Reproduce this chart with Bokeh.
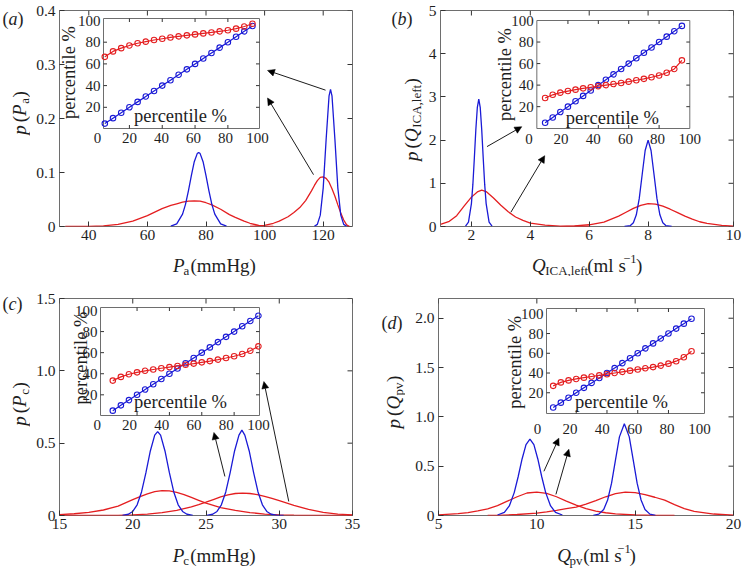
from math import pi
from bokeh.plotting import figure
from bokeh.models import Range1d, LinearAxis, FixedTicker, Arrow, NormalHead
from bokeh.layouts import row, column
from bokeh.core.properties import value
from bokeh.embed import file_html
from bokeh.resources import INLINE

FONT = "Liberation Serif"
FONT_V = value(FONT)
RED = "#e41e20"
BLUE = "#1a1ad6"
INK = "#1e1e1e"
FRAME = "#6e6e6e"
TICK = "#333333"

# ------------------------------------------------------------------ data
# (a) P_a
a_blue1_x = [68, 70, 72, 73, 74, 75, 76, 77, 77.5, 78, 79, 80, 81, 82, 83, 85, 87]
a_blue1_y = [0.0006, 0.005, 0.023, 0.041, 0.066, 0.094, 0.12, 0.135, 0.137, 0.135, 0.12, 0.094, 0.066, 0.041, 0.023, 0.005, 0.0006]
a_blue2_x = [117, 118, 119, 120, 121, 122, 122.5, 123, 124, 125, 126, 127, 128]
a_blue2_y = [0.0005, 0.004, 0.021, 0.071, 0.161, 0.242, 0.254, 0.242, 0.161, 0.071, 0.021, 0.004, 0.0005]
a_red1_x = [32, 40, 45, 50, 55, 60, 65, 68, 70, 72, 74, 76, 78, 80, 82, 85, 88, 90, 93, 95, 98, 100, 103]
a_red1_y = [0, 0.0003, 0.001, 0.004, 0.010, 0.020, 0.033, 0.039, 0.042, 0.045, 0.047, 0.0475, 0.047, 0.044, 0.040, 0.032, 0.022, 0.017, 0.010, 0.006, 0.002, 0.0008, 0]
a_red2_x = [95, 100, 103, 105, 108, 110, 112, 114, 116, 117, 118, 119, 120, 121, 122, 123, 124, 125, 126, 127, 128, 129]
a_red2_y = [0, 0.002, 0.006, 0.010, 0.018, 0.026, 0.035, 0.048, 0.066, 0.076, 0.085, 0.091, 0.092, 0.089, 0.082, 0.070, 0.056, 0.040, 0.025, 0.012, 0.003, 0]

# (b) Q_ICA,left
b_blue1_x = [1.8, 1.9, 2.0, 2.05, 2.1, 2.15, 2.2, 2.25, 2.3, 2.35, 2.4, 2.45, 2.5, 2.6, 2.7]
b_blue1_y = [0.011, 0.10, 0.53, 0.98, 1.59, 2.24, 2.75, 2.95, 2.75, 2.24, 1.59, 0.98, 0.53, 0.10, 0.011]
b_blue2_x = [7.2, 7.4, 7.5, 7.6, 7.7, 7.8, 7.9, 8.0, 8.1, 8.2, 8.3, 8.4, 8.5, 8.6, 8.8]
b_blue2_y = [0.001, 0.022, 0.088, 0.27, 0.65, 1.21, 1.76, 2.0, 1.76, 1.21, 0.65, 0.27, 0.088, 0.022, 0.001]
b_red1_x = [0.95, 1.25, 1.5, 1.75, 2.0, 2.2, 2.35, 2.5, 2.75, 3.0, 3.25, 3.5, 3.75, 4.0, 4.5, 5.0, 5.5, 6.0]
b_red1_y = [0.05, 0.12, 0.25, 0.47, 0.68, 0.80, 0.84, 0.81, 0.66, 0.49, 0.34, 0.22, 0.14, 0.08, 0.03, 0.01, 0.003, 0]
b_red2_x = [5.0, 5.5, 6.0, 6.5, 7.0, 7.25, 7.5, 7.75, 8.0, 8.25, 8.5, 8.75, 9.0, 9.25, 9.5, 9.75, 10.0, 10.5, 10.9]
b_red2_y = [0.005, 0.015, 0.04, 0.10, 0.24, 0.33, 0.42, 0.49, 0.53, 0.52, 0.47, 0.40, 0.32, 0.24, 0.17, 0.11, 0.07, 0.025, 0.01]

# (c) P_c
c_blue1_x = [19.3, 19.7, 20.0, 20.3, 20.6, 20.9, 21.2, 21.5, 21.7, 21.9, 22.2, 22.5, 22.8, 23.1, 23.4, 23.7, 24.1]
c_blue1_y = [0.0014, 0.0087, 0.028, 0.074, 0.163, 0.296, 0.446, 0.556, 0.58, 0.556, 0.446, 0.296, 0.163, 0.074, 0.028, 0.0087, 0.0014]
c_blue2_x = [25.05, 25.45, 25.75, 26.05, 26.35, 26.65, 26.95, 27.25, 27.45, 27.65, 27.95, 28.25, 28.55, 28.85, 29.15, 29.45, 29.85, 30.3]
c_blue2_y = [0.0014, 0.0087, 0.028, 0.074, 0.163, 0.296, 0.446, 0.556, 0.59, 0.556, 0.446, 0.296, 0.163, 0.074, 0.028, 0.0087, 0.0014, 0]
c_red1_x = [15, 16, 17, 18, 19, 20, 20.5, 21, 21.5, 22, 22.5, 23, 23.5, 24, 24.5, 25, 26, 27, 28, 29, 30, 31, 32, 35]
c_red1_y = [0.006, 0.012, 0.022, 0.038, 0.065, 0.11, 0.13, 0.15, 0.165, 0.172, 0.17, 0.16, 0.145, 0.125, 0.105, 0.085, 0.055, 0.035, 0.02, 0.01, 0.005, 0.002, 0, 0]
c_red2_x = [15, 19, 20, 21, 22, 23, 24, 24.5, 25, 25.5, 26, 26.5, 27, 27.5, 28, 28.5, 29, 29.5, 30, 31, 32, 33, 34, 35]
c_red2_y = [0, 0.001, 0.004, 0.01, 0.02, 0.035, 0.06, 0.075, 0.092, 0.11, 0.128, 0.142, 0.152, 0.155, 0.152, 0.145, 0.133, 0.118, 0.102, 0.07, 0.042, 0.022, 0.009, 0.004]

# (d) Q_pv
d_blue1_x = [8.0, 8.35, 8.6, 8.85, 9.05, 9.25, 9.45, 9.65, 9.85, 10.05, 10.25, 10.45, 10.7, 10.95, 11.3]
d_blue1_y = [0.005, 0.032, 0.097, 0.232, 0.393, 0.573, 0.719, 0.775, 0.719, 0.573, 0.393, 0.232, 0.097, 0.032, 0.005]
d_blue2_x = [12.87, 13.15, 13.4, 13.6, 13.8, 14.0, 14.2, 14.45, 14.7, 14.9, 15.1, 15.3, 15.5, 15.75, 16.03]
d_blue2_y = [0.002, 0.014, 0.061, 0.157, 0.328, 0.564, 0.797, 0.93, 0.797, 0.564, 0.328, 0.157, 0.061, 0.014, 0.002]
d_red1_x = [5, 6, 6.5, 7, 7.5, 8, 8.5, 9, 9.5, 10, 10.5, 11, 11.5, 12, 12.5, 13, 13.5, 14, 15, 16, 17]
d_red1_y = [0.006, 0.018, 0.03, 0.046, 0.068, 0.1, 0.145, 0.19, 0.228, 0.238, 0.225, 0.19, 0.145, 0.105, 0.07, 0.045, 0.028, 0.016, 0.005, 0.001, 0]
d_red2_x = [7.5, 8, 9, 10, 10.5, 11, 11.5, 12, 12.5, 13, 13.5, 14, 14.5, 15, 15.5, 16, 16.5, 17, 17.5, 18, 19, 20]
d_red2_y = [0, 0.002, 0.01, 0.025, 0.037, 0.053, 0.07, 0.085, 0.115, 0.15, 0.19, 0.222, 0.236, 0.232, 0.212, 0.185, 0.155, 0.11, 0.07, 0.042, 0.015, 0.004]

# insets: percentile (x) vs percentile (y)
pct_x = [5, 10, 15, 20, 25, 30, 35, 40, 45, 50, 55, 60, 65, 70, 75, 80, 85, 90, 95]
a_pct_blue = [5, 10, 15, 20, 25, 30, 35, 40, 45, 50, 55, 60, 65, 70, 75, 80, 85, 90, 95]
a_pct_red = [66.5, 71.5, 74.5, 77, 79, 80.5, 82, 83.2, 84.4, 85.4, 86.3, 87.2, 88.1, 89, 90, 91, 92.5, 94.5, 97]
b_pct_blue = [5, 10, 15, 20, 25, 30, 35, 40, 45, 50, 55, 60, 65, 70, 75, 80, 85, 90, 95]
b_pct_red = [28, 31, 33, 34.5, 35.8, 37, 38, 39, 40, 41, 42, 43.2, 44.5, 45.8, 47.3, 49, 51.5, 55, 63]
c_pct_blue = [5, 10, 15, 20, 25, 30, 35, 40, 45, 50, 55, 60, 65, 70, 75, 80, 85, 90, 95]
c_pct_red = [33.5, 37, 39.5, 41.3, 42.8, 44, 45.2, 46.3, 47.4, 48.5, 49.6, 50.8, 52, 53.4, 54.9, 56.6, 58.7, 61.8, 66]
d_pct_blue = [5, 10, 15, 20, 25, 30, 35, 40, 45, 50, 55, 60, 65, 70, 75, 80, 85, 90, 95]
d_pct_red = [27, 30.5, 32.5, 34, 35.3, 36.5, 37.6, 38.8, 40, 41.2, 42.4, 43.6, 44.8, 46, 47.5, 49.5, 52, 56, 62]

inset_ticks = [0, 20, 40, 60, 80, 100]

# ------------------------------------------------------------------ layout helpers
W_REG = {" ": .25, "(": .333, ")": .333, "m": .778, "H": .722, "g": .5, "l": .278, "s": .389,
         "a": .444, "c": .444, "p": .5, "v": .5, "I": .333, "C": .667, "A": .722, ",": .25,
         "e": .444, "f": .333, "t": .278, "1": .5, "\u2212": .564}
W_IT = {"P": .611, "Q": .722, "p": .5, "a": .5, "b": .5, "c": .444, "d": .5}


def tw(s, size, italic):
    table = W_IT if italic else W_REG
    return sum(table.get(ch, .5) for ch in s) * size


def put_seq(fig, pieces, x, y, rotated=False, center=True):
    total = sum(tw(t, s, it) + g for (t, s, it, sh, g) in pieces)
    cur = (y if rotated else x) - (total / 2 if center else 0)
    for (t, s, it, sh, g) in pieces:
        cur += g
        if rotated:
            lx, ly, ang = x - sh, cur, pi / 2
        else:
            lx, ly, ang = cur, y + sh, 0
        fig.text(x=[lx], y=[ly], text=[t], angle=ang, text_font=FONT_V,
                 text_font_size=value(f"{s}px"),
                 text_font_style=value("italic" if it else "normal"),
                 text_color=INK, text_align="left", text_baseline="alphabetic")
        cur += tw(t, s, it)


def text_fig(w, h):
    f = figure(width=w, height=h, x_range=Range1d(0, w), y_range=Range1d(0, h),
               output_backend="svg", toolbar_location=None, min_border=0,
               x_axis_type=None, y_axis_type=None)
    f.grid.visible = False
    f.outline_line_color = None
    f.background_fill_color = "white"
    f.border_fill_color = "white"
    return f


def style_axis(ax, ticks, overrides, standoff):
    ax.ticker = FixedTicker(ticks=ticks)
    ax.major_label_overrides = overrides
    ax.axis_line_color = None
    ax.major_tick_in = 5
    ax.major_tick_out = 0
    ax.major_tick_line_color = TICK
    ax.minor_tick_line_color = None
    ax.major_label_text_font = FONT
    ax.major_label_text_color = INK
    ax.major_label_text_font_size = "15.5px"
    ax.major_label_standoff = standoff


# rows: (top, bottom of the axis band, bottom of the row) ; columns: (left, right)
ROWS = [(0, 247, 276), (276, 536, 569)]
COLS = [(0, 371), (371, 742)]


def make_panel(cfg, ri, ci):
    L, R, T, B = cfg["frame"]
    rtop, mbot, rbot = ROWS[ri]
    c0, c1 = COLS[ci]
    wy = cfg["wy"]
    fw, fh = R - L, B - T
    fx = lambda v: v - L
    fy = lambda v: B - v
    lb, rb, tb, bb = L - c0 - wy, c1 - R, T - rtop, mbot - B
    x0r, x1r = cfg["xr"]
    y0r, y1r = cfg["yr"]
    p = figure(width=lb + fw + rb, height=tb + fh + bb,
               x_range=Range1d(x0r, x1r), y_range=Range1d(y0r, y1r),
               output_backend="svg", toolbar_location=None,
               min_border_left=lb, min_border_right=rb, min_border_top=tb, min_border_bottom=bb,
               x_axis_type=None, y_axis_type=None)
    p.grid.visible = False
    p.outline_line_color = FRAME
    p.outline_line_width = 1
    p.background_fill_color = "white"
    p.border_fill_color = "white"

    xt, yt = cfg["xticks"], cfg["yticks"]
    ax = LinearAxis()
    style_axis(ax, xt, {t: s for t, s in zip(xt, cfg["xlabels"])}, 3)
    p.add_layout(ax, "below")
    ay = LinearAxis()
    style_axis(ay, yt, {t: s for t, s in zip(yt, cfg["ylabels"])}, 4)
    p.add_layout(ay, "left")
    # inward ticks on the top and right edges of the box
    dxt = (x1r - x0r) / fw * 5
    dyt = (y1r - y0r) / fh * 5
    p.segment(x0=xt, x1=xt, y0=[y1r] * len(xt), y1=[y1r - dyt] * len(xt), line_color=TICK, line_width=1)
    p.segment(x0=[x1r] * len(yt), x1=[x1r - dxt] * len(yt), y0=yt, y1=yt, line_color=TICK, line_width=1)

    for (xs, ys, col) in cfg["curves"]:
        p.line(xs, ys, line_color=col, line_width=1.3)

    # ---- inset, drawn on extra ranges of its own
    ins = cfg["inset"]
    ppx = (fx(ins["X100"]) - fx(ins["X0"])) / 100.0
    ix0 = -fx(ins["X0"]) / ppx
    ppy = (fy(ins["Y100"]) - fy(ins["Y0"])) / 100.0
    iy0 = -fy(ins["Y0"]) / ppy
    ppl = (fx(ins["LX100"]) - fx(ins["LX0"])) / 100.0
    il0 = -fx(ins["LX0"]) / ppl
    p.extra_x_ranges = {"ix": Range1d(ix0, ix0 + fw / ppx), "lx": Range1d(il0, il0 + fw / ppl),
                        "px": Range1d(0, fw)}
    p.extra_y_ranges = {"iy": Range1d(iy0, iy0 + fh / ppy), "py": Range1d(0, fh)}

    bL, bR, bT, bB = ins["box"]
    bx0 = (fx(bL) - fx(ins["X0"])) / ppx
    bx1 = (fx(bR) - fx(ins["X0"])) / ppx
    by0 = (fy(bB) - fy(ins["Y0"])) / ppy
    by1 = (fy(bT) - fy(ins["Y0"])) / ppy
    kw = dict(x_range_name="ix", y_range_name="iy")
    p.quad(left=[bx0], right=[bx1], bottom=[by0], top=[by1], fill_color="white",
           line_color=FRAME, line_width=1, **kw)
    tl = 3.5
    inner = inset_ticks[1:-1]
    n = len(inner)
    p.segment(x0=[bx0] * n, x1=[bx0 + tl / ppx] * n, y0=inner, y1=inner, line_color=TICK, **kw)
    p.segment(x0=[bx1] * n, x1=[bx1 - tl / ppx] * n, y0=inner, y1=inner, line_color=TICK, **kw)
    p.segment(x0=inner, x1=inner, y0=[by0] * n, y1=[by0 + tl / ppy] * n, line_color=TICK, **kw)
    p.segment(x0=inner, x1=inner, y0=[by1] * n, y1=[by1 - tl / ppy] * n, line_color=TICK, **kw)
    ylab = inset_ticks[1:]
    p.text(x=[bx0] * len(ylab), y=ylab, text=[str(v) for v in ylab], x_offset=-3,
           text_align="right", text_baseline="middle", text_font=FONT_V,
           text_font_size="15px", text_color=INK, **kw)
    rowv = (fy(ins["row"]) - fy(ins["Y0"])) / ppy
    p.text(x=inset_ticks, y=[rowv] * len(inset_ticks), text=[str(v) for v in inset_ticks],
           text_align="center", text_baseline="middle", text_font=FONT_V, text_font_size="15px",
           text_color=INK, x_range_name="lx", y_range_name="iy")
    p.line(pct_x, ins["blue"], line_color=BLUE, line_width=1.2, **kw)
    p.scatter(pct_x, ins["blue"], marker="circle", size=5.5, fill_color=None, line_color=BLUE,
              line_width=1.1, **kw)
    p.line(pct_x, ins["red"], line_color=RED, line_width=1.2, **kw)
    p.scatter(pct_x, ins["red"], marker="circle", size=5.5, fill_color=None, line_color=RED,
              line_width=1.1, **kw)
    rx, ry = ins["rot"]
    hx, hy = ins["hor"]
    p.text(x=[fx(rx)], y=[fy(ry)], text=["percentile %"], angle=pi / 2, x_range_name="px",
           y_range_name="py", text_font=FONT_V, text_font_size="18.5px", text_color=INK,
           text_align="center", text_baseline="middle")
    p.text(x=[fx(hx)], y=[fy(hy)], text=["percentile %"], x_range_name="px",
           y_range_name="py", text_font=FONT_V, text_font_size="18.5px", text_color=INK,
           text_align="center", text_baseline="middle")

    for (xa, ya, xb, yb) in cfg["arrows"]:
        p.add_layout(Arrow(x_start=xa, y_start=ya, x_end=xb, y_end=yb, line_color="black",
                           line_width=0.9,
                           end=NormalHead(size=7, fill_color="black", line_color="black",
                                          line_width=0.5)))

    # ---- x label band (below) and y label band (left); positions in page pixels
    xl = text_fig(lb + fw + rb, rbot - mbot)
    cx, cyb = cfg["xlab_pos"]
    put_seq(xl, cfg["xlab"], cx - (c0 + wy), rbot - cyb)
    yl = text_fig(wy, rbot - rtop)
    yx, yy = cfg["ylab_pos"]
    put_seq(yl, cfg["ylab"], yx - c0, rbot - yy, rotated=True)
    qx, qy = cfg["plab_pos"]
    put_seq(yl, cfg["plab"], qx - c0, rbot - qy, center=False)
    return row(yl, column(p, xl))


SUB = -4.5
mmHg = ("(mmHg)", 19, False, 0, 2.5)
mls = [("(ml s", 19, False, 0, 2.5), ("\u22121", 12.5, False, 7, 0.5), (")", 19, False, 0, 0.5)]


def plab(letter):
    return [("(", 18, False, 0, 0), (letter, 18, True, 0, 0), (")", 18, False, 0, 0)]


def ylab(sym, sub):
    return [("p", 19, True, 0, 0), ("(", 19, False, 0, 3), (sym, 19, True, 0, 0),
            (sub, 13, False, SUB, 0.5), (")", 19, False, 0, 0.5)]


cfg_a = dict(frame=(59, 352, 10, 226), wy=30, xr=(30, 130), yr=(0, 0.4),
             xticks=[40, 60, 80, 100, 120], xlabels=["40", "60", "80", "100", "120"],
             yticks=[0, 0.1, 0.2, 0.3, 0.4], ylabels=["0", "0.1", "0.2", "0.3", "0.4"],
             curves=[(a_red1_x, a_red1_y, RED), (a_red2_x, a_red2_y, RED),
                     (a_blue1_x, a_blue1_y, BLUE), (a_blue2_x, a_blue2_y, BLUE)],
             arrows=[(120.8, 0.2525, 101, 0.289), (116.7, 0.096, 101, 0.238)],
             inset=dict(box=(103, 259, 18, 128), X0=96.1, X100=260.2, Y0=128.5, Y100=20,
                        LX0=97, LX100=257, row=137, rot=(68, 72), hor=(180, 115),
                        blue=a_pct_blue, red=a_pct_red),
             xlab=[("P", 19, True, 0, 0), ("a", 13, False, SUB, 0.5), mmHg], xlab_pos=(205, 265),
             ylab=ylab("P", "a"), ylab_pos=(19, 112.5), plab=plab("a"), plab_pos=(2, 18))

cfg_b = dict(frame=(438, 733, 10, 226), wy=54, xr=(0.95, 10.9), yr=(0, 5),
             xticks=[2, 4, 6, 8, 10.9], xlabels=["2", "4", "6", "8", "10"],
             yticks=[0, 1, 2, 3, 4, 5], ylabels=["0", "1", "2", "3", "4", "5"],
             curves=[(b_red1_x, b_red1_y, RED), (b_red2_x, b_red2_y, RED),
                     (b_blue1_x, b_blue1_y, BLUE), (b_blue2_x, b_blue2_y, BLUE)],
             arrows=[(2.53, 1.85, 3.71, 2.31), (3.34, 0.33, 4.49, 1.64)],
             inset=dict(box=(535, 689, 20, 128), X0=535.7, X100=688.7, Y0=127.7, Y100=20,
                        LX0=527, LX100=689, row=138, rot=(502.7, 74), hor=(611, 117),
                        blue=b_pct_blue, red=b_pct_red),
             xlab=[("Q", 19, True, 0, 0), ("ICA,left", 13, False, SUB, 0.5)] + mls,
             xlab_pos=(583.5, 265),
             ylab=ylab("Q", "ICA,left"), ylab_pos=(411, 119), plab=plab("b"), plab_pos=(391, 18))

cfg_c = dict(frame=(59, 352, 298, 515), wy=30, xr=(15, 35), yr=(0, 1.5),
             xticks=[15, 20, 25, 30, 35], xlabels=["15", "20", "25", "30", "35"],
             yticks=[0, 0.5, 1.0, 1.5], ylabels=["0", "0.5", "1.0", "1.5"],
             curves=[(c_red1_x, c_red1_y, RED), (c_red2_x, c_red2_y, RED),
                     (c_blue1_x, c_blue1_y, BLUE), (c_blue2_x, c_blue2_y, BLUE)],
             arrows=[(26.29, 0.27, 25.54, 0.574), (30.65, 0.097, 28.95, 0.926)],
             inset=dict(box=(100, 259, 307, 415), X0=104.2, X100=266, Y0=415.4, Y100=310,
                        LX0=96.7, LX100=258, row=424, rot=(80, 357.5), hor=(180, 401.7),
                        blue=c_pct_blue, red=c_pct_red),
             xlab=[("P", 19, True, 0, 0), ("c", 13, False, SUB, 0.5), mmHg], xlab_pos=(204.7, 555),
             ylab=ylab("P", "c"), ylab_pos=(19, 403.5), plab=plab("c"), plab_pos=(2, 303))

cfg_d = dict(frame=(438, 733, 298, 515), wy=34, xr=(5, 20), yr=(0, 2.2),
             xticks=[5, 10, 15, 20], xlabels=["5", "10", "15", "20"],
             yticks=[0, 0.5, 1.0, 1.5, 2.0], ylabels=["0", "0.5", "1.0", "1.5", "2.0"],
             curves=[(d_red1_x, d_red1_y, RED), (d_red2_x, d_red2_y, RED),
                     (d_blue1_x, d_blue1_y, BLUE), (d_blue2_x, d_blue2_y, BLUE)],
             arrows=[(10.36, 0.448, 11.12, 0.784), (10.97, 0.214, 11.63, 0.672)],
             inset=dict(box=(546, 704, 308, 413), X0=545, X100=698.7, Y0=412, Y100=313.3,
                        LX0=537, LX100=699, row=428, rot=(514, 361.7), hor=(621, 401.7),
                        blue=d_pct_blue, red=d_pct_red),
             xlab=[("Q", 19, True, 0, 0), ("pv", 13, False, SUB, 0.5)] + mls, xlab_pos=(585, 555),
             ylab=ylab("Q", "pv"), ylab_pos=(393, 401.5), plab=plab("d"), plab_pos=(381, 322))

layout = column(row(make_panel(cfg_a, 0, 0), make_panel(cfg_b, 0, 1)),
                row(make_panel(cfg_c, 1, 0), make_panel(cfg_d, 1, 1)))

open("out.html", "w").write(file_html(layout, INLINE))
